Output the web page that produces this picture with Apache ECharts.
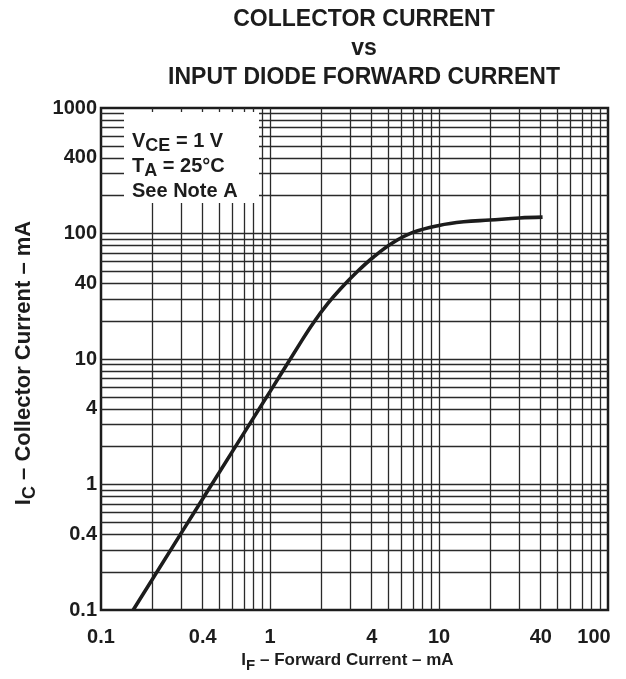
<!DOCTYPE html>
<html>
<head>
<meta charset="utf-8">
<script src="https://cdn.jsdelivr.net/npm/echarts@6/dist/echarts.min.js"></script>
<style>
html,body{margin:0;padding:0;background:#fff;}
#chart{width:626px;height:679px;}
</style>
</head>
<body>
<div id="chart"></div>
<script>
// ---- data ----
const forwardCurrent = [0.155, 0.4, 1, 1.5, 1.8, 2.2, 2.6, 3.3, 4.1, 5.3, 7, 10, 14, 20, 30, 41];
const collectorCurrent = [0.1, 0.77, 5.5, 13.2, 19.3, 27.7, 36, 50, 65, 84, 102, 116, 124, 128, 133, 135];
const xTickLabels = [0.1, 0.4, 1, 4, 10, 40, 100];
const yTickLabels = [0.1, 0.4, 1, 4, 10, 40, 100, 400, 1000];
const xDecades = [0.1, 1, 10];
const yDecades = [0.1, 1, 10, 100];
const gridMultipliers = [1, 2, 3, 4, 5, 6, 7, 8, 9];

const FONT = '"Liberation Sans", Arial, Helvetica, sans-serif';
const INK = '#1c1c1c';

const xGrid = [];
xDecades.forEach(d => gridMultipliers.forEach(m => { const v = +(d * m).toPrecision(3); if (v > 0.1) xGrid.push(v); }));
const yGrid = [];
yDecades.forEach(d => gridMultipliers.forEach(m => { const v = +(d * m).toPrecision(3); if (v > 0.1) yGrid.push(v); }));

const fmt = v => String(+(+v).toPrecision(3));
const xFmt = v => { const s = fmt(v); return s === '100' ? '{r|' + s + '}' : s; };

const chart = echarts.init(document.getElementById('chart'), null, {renderer: 'canvas'});
chart.setOption({
  animation: false,
  backgroundColor: '#fff',
  title: {
    text: 'COLLECTOR CURRENT\nvs\nINPUT DIODE FORWARD CURRENT',
    left: 359,
    textAlign: 'center',
    top: 0,
    textStyle: {fontFamily: FONT, fontWeight: 'bold', fontSize: 23, lineHeight: 29, color: INK}
  },
  grid: {
    left: 101, right: 18, top: 108, bottom: 69,
    show: true, borderColor: INK, borderWidth: 2.5, backgroundColor: 'transparent'
  },
  xAxis: {
    type: 'log', logBase: 10, min: 0.1, max: 100,
    axisLine: {show: false},
    axisTick: {show: false},
    splitLine: {show: false},
    axisLabel: {
      customValues: xTickLabels, formatter: xFmt, margin: 17,
      fontFamily: FONT, fontWeight: 'bold', fontSize: 20, color: INK,
      rich: {r: {fontFamily: FONT, fontWeight: 'bold', fontSize: 20, color: INK, padding: [0, 28, 6, 0]}}
    },
    name: '{n|I}{s|F}{n| – Forward Current – mA}',
    nameLocation: 'middle', nameGap: 38,
    nameTextStyle: {
      padding: [0, 14, 0, 0],
      rich: {
        n: {fontFamily: FONT, fontWeight: 'bold', fontSize: 17, color: INK},
        s: {fontFamily: FONT, fontWeight: 'bold', fontSize: 15, color: INK, padding: [10, 0, 0, 0]}
      }
    }
  },
  yAxis: {
    type: 'log', logBase: 10, min: 0.1, max: 1000,
    axisLine: {show: false},
    axisTick: {show: false},
    splitLine: {show: false},
    axisLabel: {
      customValues: yTickLabels, formatter: fmt, margin: 4,
      fontFamily: FONT, fontWeight: 'bold', fontSize: 20, color: INK
    },
    name: '{n|I}{s|C}{n| – Collector Current – mA}',
    nameLocation: 'middle', nameGap: 62, nameRotate: 90,
    nameTextStyle: {
      padding: [0, 8, 0, 0],
      rich: {
        n: {fontFamily: FONT, fontWeight: 'bold', fontSize: 22, color: INK},
        s: {fontFamily: FONT, fontWeight: 'bold', fontSize: 18, color: INK, padding: [12, 0, 0, 0]}
      }
    }
  },
  graphic: [
    {type: 'rect', left: 124, top: 112, z: 100, shape: {width: 135, height: 91}, style: {fill: '#fff'}},
    {type: 'text', left: 132, top: 128, z: 101, style: {
      text: '{n|V}{s|CE}{n| = 1 V}\n{n|T}{s|A}{n| = 25°C}\n{n|See Note A}',
      rich: {
        n: {fontFamily: FONT, fontWeight: 'bold', fontSize: 20, fill: INK, lineHeight: 25},
        s: {fontFamily: FONT, fontWeight: 'bold', fontSize: 18, fill: INK, lineHeight: 25, padding: [9, 0, 0, 0]}
      }
    }}
  ],
  series: [
    {
      type: 'line',
      name: 'grid',
      data: [],
      silent: true,
      z: 1,
      markLine: {
        silent: true,
        symbol: 'none',
        label: {show: false},
        animation: false,
        lineStyle: {color: '#2a2a2a', width: 1.3, type: 'solid'},
        data: xGrid.map(v => ({xAxis: v})).concat(yGrid.map(v => ({yAxis: v})))
      }
    },
    {
      type: 'line',
      name: 'IC',
      data: forwardCurrent.map((x, i) => [x, collectorCurrent[i]]),
      smooth: 0.4,
      showSymbol: false,
      z: 5,
      lineStyle: {color: INK, width: 3.6}
    }
  ]
});
</script>
</body>
</html>
